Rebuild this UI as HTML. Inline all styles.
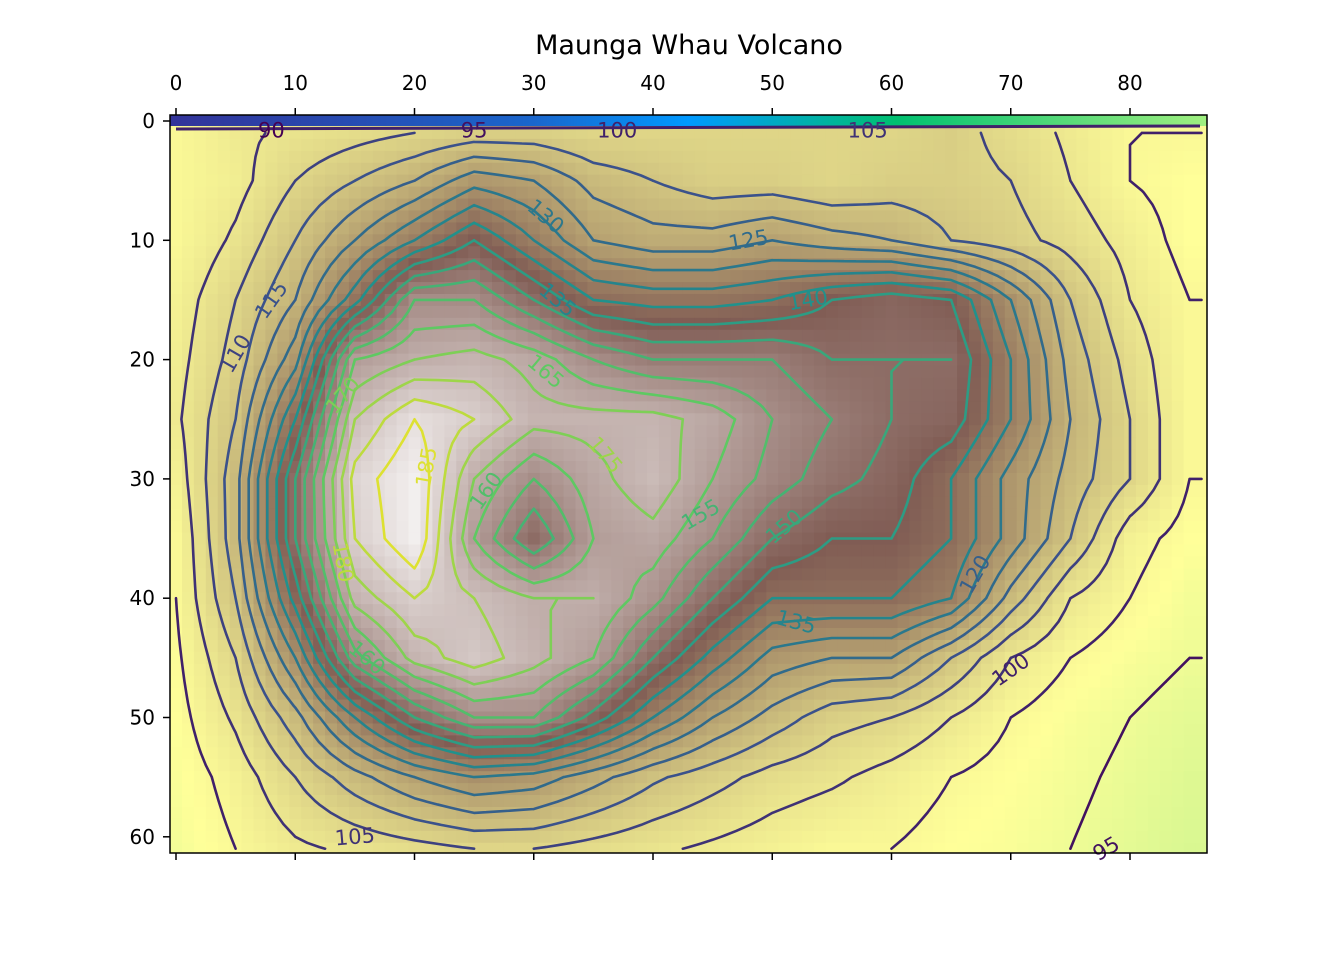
<!DOCTYPE html>
<html><head><meta charset="utf-8"><style>
html,body{margin:0;padding:0;background:#fff;}
svg text{font-family:"DejaVu Sans","Liberation Sans",sans-serif;}
</style></head><body>
<svg id="chart" width="1344" height="960" viewBox="0 0 1344 960" xmlns="http://www.w3.org/2000/svg">
<rect width="1344" height="960" fill="#fff"/>
<text x="689" y="54" font-size="27" text-anchor="middle">Maunga Whau Volcano</text>
<defs>
<linearGradient id="band" x1="0" x2="1" y1="0" y2="0">
<stop offset="0" stop-color="#333399"/><stop offset="0.35" stop-color="#1a66cc"/><stop offset="0.5" stop-color="#0099ff"/><stop offset="0.7" stop-color="#00c070"/><stop offset="1" stop-color="#a0f080"/>
</linearGradient>
<clipPath id="plotclip"><rect x="170" y="115" width="1037" height="738"/></clipPath>
</defs>
<g id="heat" clip-path="url(#plotclip)"></g>
<rect x="170" y="115" width="1037" height="11" fill="url(#band)"/>
<g id="contours" clip-path="url(#plotclip)"></g>
<line x1="176" y1="129" x2="1200" y2="126" stroke="#40206a" stroke-width="3"/>
<g id="labels"></g>
<rect x="170" y="115" width="1037" height="738" fill="none" stroke="#000" stroke-width="1.5"/>
<g id="axes"></g>
</svg>
<script>
const xCoords=[0,5,10,15,20,25,30,35,40,45,50,55,60,65,70,75,80,85];
const yCoords=[1,5,10,15,20,25,30,35,40,45,50,55,61];
const heights=[
[100,104,106,108,110,112,112,110,110,110,110,110,110,112,108,104,100,100],
[100,103,110,115,120,128,125,118,115,112,112,110,112,112,110,105,100,98],
[100,106,115,125,135,145,135,125,122,122,125,122,120,115,112,108,103,98],
[102,110,120,138,160,160,150,140,138,138,140,145,148,145,130,115,105,100],
[103,112,128,165,170,172,168,160,155,155,155,150,150,150,135,118,108,100],
[104,115,140,175,185,180,172,172,172,168,160,155,150,148,135,120,110,100],
[102,118,150,182,190,170,160,168,174,165,158,152,148,140,128,118,110,100],
[100,118,150,180,190,165,150,165,168,160,150,145,145,140,128,115,102,98],
[100,115,142,172,180,175,170,170,162,150,140,140,140,135,118,105,100,96],
[99,110,130,158,172,178,172,165,150,138,128,125,125,115,105,100,97,95],
[98,106,118,135,150,160,160,148,135,125,118,112,110,105,100,97,95,93],
[97,102,110,118,125,130,128,122,116,112,108,106,103,100,98,96,94,92],
[96,100,104,106,108,110,110,108,106,104,102,100,100,98,97,95,93,91]];
const levels=[95,100,105,110,115,120,125,130,135,140,145,150,155,160,165,170,175,180,185];
const xTicks=[0,10,20,30,40,50,60,70,80];
const yTicks=[0,10,20,30,40,50,60];
const labelTexts=["90","95","100","105","110","115","125","130","135","140","165","170","175","185","160","155","150","120","100","135","180","160","105","95"];
const labelPos=[[8,0.8,0],[25,0.8,0],[37,0.8,0],[58,0.8,0],[5,19.5,-60],[8,15,-55],[48,10,-10],[31,8,40],[32,15,40],[53,15,-10],[31,21,40],[14,23,-50],[36,28,50],[21,29,-80],[26,31,-55],[44,33,-30],[51,34,-40],[67,38,-60],[70,46,-35],[52,42,15],[14,37,80],[16,45,40],[15,60,-5],[78,61,-30]];

const NX=87, NY=62;
const X=v=>176+11.925*v, Y=v=>121+11.93*v;
function interp1(arr,c){
  if(c<=arr[0])return [0,0];
  for(let i=0;i<arr.length-1;i++){ if(c<=arr[i+1]) return [i,(c-arr[i])/(arr[i+1]-arr[i])]; }
  return [arr.length-2,1];
}
const Z=[];
for(let j=0;j<NY;j++){Z.push([]);const [yi,fy]=interp1(yCoords,j);
  for(let i=0;i<NX;i++){const [xi,fx]=interp1(xCoords,i);
    const a=heights[yi][xi],b=heights[yi][xi+1],c=heights[yi+1][xi],d=heights[yi+1][xi+1];
    Z[j].push(a*(1-fx)*(1-fy)+b*fx*(1-fy)+c*(1-fx)*fy+d*fx*fy);}}
function terrain(t){
  const st=[[0,[51,51,153]],[0.15,[0,153,255]],[0.25,[0,204,102]],[0.5,[255,255,153]],[0.75,[128,92,84]],[1,[255,255,255]]];
  t=Math.max(0,Math.min(1,t));
  for(let k=0;k<st.length-1;k++){if(t<=st[k+1][0]){const f=(t-st[k][0])/(st[k+1][0]-st[k][0]);
    const c=st[k][1].map((v,q)=>Math.round(v+(st[k+1][1][q]-v)*f));return `rgb(${c})`;}}
  return 'rgb(255,255,255)';
}
function hToT(v){ return v<145 ? 0.5+0.25*(v-98)/47 : 0.75+0.25*(v-145)/50; }
const NS='http://www.w3.org/2000/svg';
const heat=document.getElementById('heat');
for(let j=0;j<NY;j++)for(let i=0;i<NX;i++){
  const r=document.createElementNS(NS,'rect');
  
  
  r.setAttribute('x',(X(i-0.5)).toFixed(2));r.setAttribute('y',(Y(j-0.5)).toFixed(2));
  r.setAttribute('width','12.4');r.setAttribute('height','12.4');
  r.setAttribute('fill',terrain(hToT(Z[j][i])));
  heat.appendChild(r);
}
function viridis(t){
  const st=[[0,[68,1,84]],[0.25,[59,82,139]],[0.5,[33,145,140]],[0.75,[94,201,98]],[1,[253,231,37]]];
  t=Math.max(0,Math.min(1,t));
  for(let k=0;k<st.length-1;k++){if(t<=st[k+1][0]){const f=(t-st[k][0])/(st[k+1][0]-st[k][0]);
    const c=st[k][1].map((v,q)=>Math.round(v+(st[k+1][1][q]-v)*f));return `rgb(${c})`;}}
}
const cg=document.getElementById('contours');
levels.forEach(L=>{
  let d='';
  for(let j=1;j<NY-1;j++)for(let i=0;i<NX-1;i++){
    const v=[Z[j][i],Z[j][i+1],Z[j+1][i+1],Z[j+1][i]];
    const p=[[i,j],[i+1,j],[i+1,j+1],[i,j+1]];
    const pts=[];
    for(let e=0;e<4;e++){const a=v[e],b=v[(e+1)%4];
      if((a<L)!==(b<L)){const f=(L-a)/(b-a);const pa=p[e],pb=p[(e+1)%4];
        pts.push([pa[0]+(pb[0]-pa[0])*f,pa[1]+(pb[1]-pa[1])*f]);}}
    for(let k=0;k+1<pts.length;k+=2)
      d+=`M${X(pts[k][0]).toFixed(1)},${Y(pts[k][1]).toFixed(1)}L${X(pts[k+1][0]).toFixed(1)},${Y(pts[k+1][1]).toFixed(1)}`;
  }
  const path=document.createElementNS(NS,'path');
  
  
  path.setAttribute('d',d);path.setAttribute('stroke',viridis((L-90)/100));
  path.setAttribute('stroke-width','2.6');path.setAttribute('fill','none');path.setAttribute('stroke-linecap','round');
  cg.appendChild(path);
});
const lg=document.getElementById('labels');
labelTexts.forEach((t,k)=>{
  const [lx,ly,rot]=labelPos[k];const tx=document.createElementNS(NS,'text');
  
  
  tx.setAttribute('x',X(lx));tx.setAttribute('y',Y(ly)+7);tx.setAttribute('font-size','21');
  tx.setAttribute('text-anchor','middle');tx.setAttribute('fill',viridis((parseInt(t)-90)/100));
  tx.setAttribute('transform',`rotate(${rot} ${X(lx)} ${Y(ly)})`);tx.textContent=t;lg.appendChild(tx);
});
const ax=document.getElementById('axes');
xTicks.forEach(t=>{
  const x=X(t);
  ['top','bottom'].forEach(s=>{const l=document.createElementNS(NS,'line');
    
    
    const y0=s==='top'?115:853,y1=s==='top'?108:860;
    l.setAttribute('x1',x);l.setAttribute('x2',x);l.setAttribute('y1',y0);l.setAttribute('y2',y1);l.setAttribute('stroke','#000');l.setAttribute('stroke-width','1.5');ax.appendChild(l);});
  const tx=document.createElementNS(NS,'text');
  
  
  tx.setAttribute('x',x);tx.setAttribute('y',90);tx.setAttribute('font-size','20');tx.setAttribute('text-anchor','middle');tx.textContent=t;ax.appendChild(tx);
});
yTicks.forEach(t=>{
  const y=Y(t);const l=document.createElementNS(NS,'line');
  
  
  l.setAttribute('x1',163);l.setAttribute('x2',170);l.setAttribute('y1',y);l.setAttribute('y2',y);l.setAttribute('stroke','#000');l.setAttribute('stroke-width','1.5');ax.appendChild(l);
  const tx=document.createElementNS(NS,'text');
  
  
  tx.setAttribute('x',155);tx.setAttribute('y',y+7);tx.setAttribute('font-size','20');tx.setAttribute('text-anchor','end');tx.textContent=t;ax.appendChild(tx);
});
</script>
</body></html>
